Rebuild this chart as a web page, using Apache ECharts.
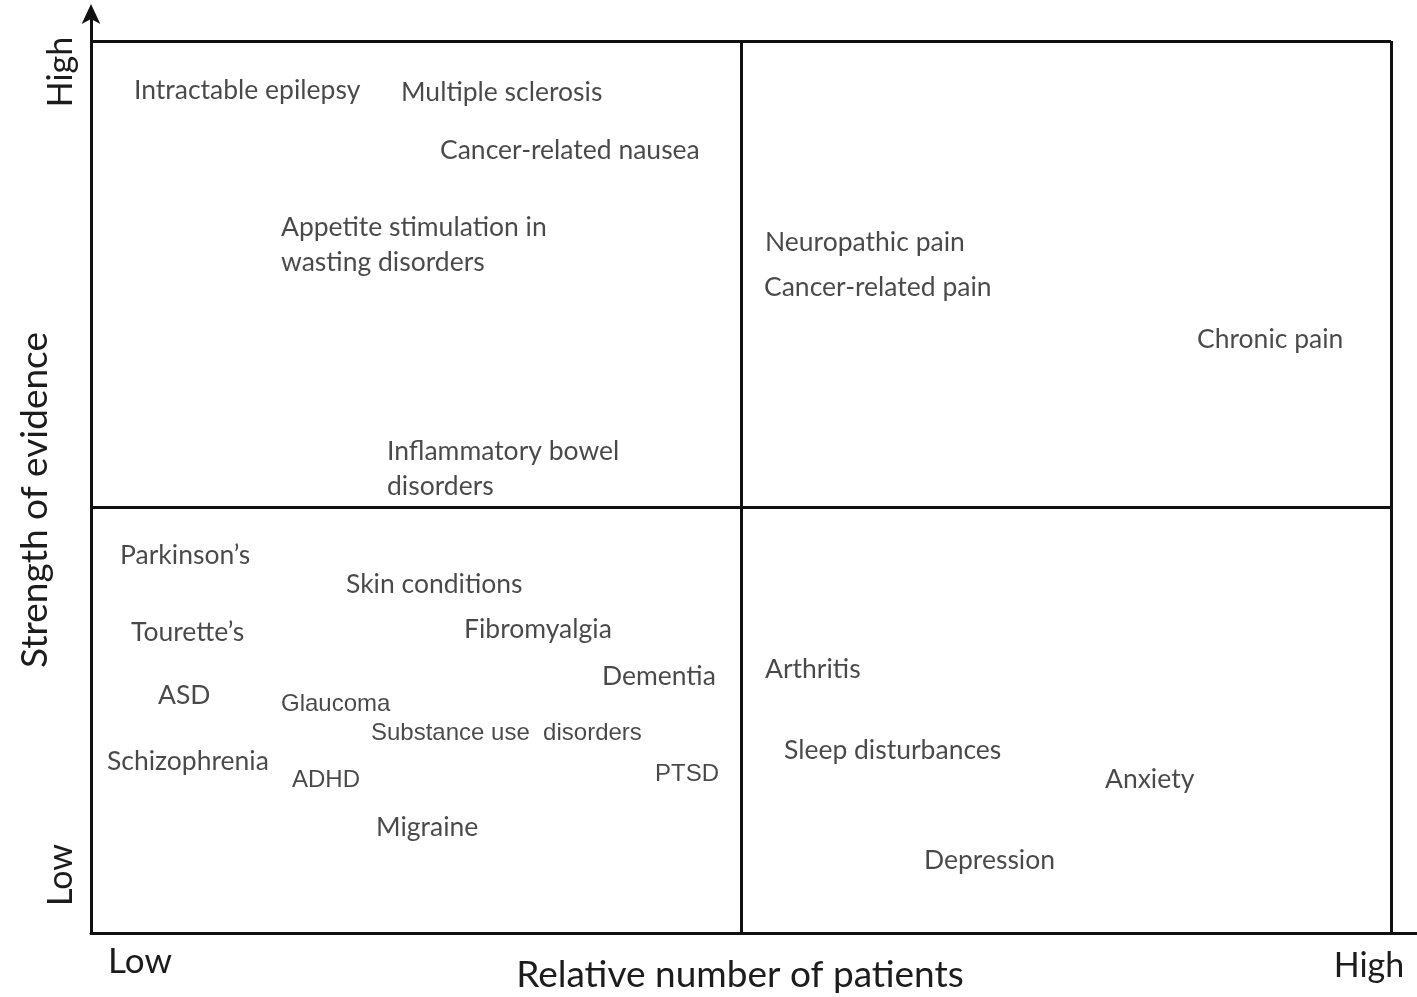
<!DOCTYPE html>
<html>
<head>
<meta charset="utf-8">
<script src="https://cdn.jsdelivr.net/npm/echarts@6/dist/echarts.min.js"></script>
<style>
html,body{margin:0;padding:0;background:#fff;}
#chart{width:1417px;height:997px;}
</style>
</head>
<body>
<div id="chart"></div>
<script>
// Condition labels (Calibri-like text), positions in chart units (x: patients, y: evidence)
const condNames = [
  'Intractable epilepsy', 'Multiple sclerosis', 'Cancer-related nausea',
  'Appetite stimulation in\nwasting disorders', 'Neuropathic pain', 'Cancer-related pain',
  'Chronic pain', 'Inflammatory bowel\ndisorders', 'Parkinson\u2019s', 'Skin conditions',
  'Tourette\u2019s', 'Fibromyalgia', 'Dementia', 'Arthritis', 'ASD', 'Schizophrenia',
  'Sleep disturbances', 'Anxiety', 'Migraine', 'Depression'
];
const condX = [43, 310, 349, 190, 674, 673, 1106, 296, 29, 255, 40, 373, 511, 674, 67, 16, 693, 1014, 285, 833];
const condY = [843, 841, 783, 688, 691, 646, 594, 464, 378, 349, 301, 304, 257, 264, 238, 172, 183, 154, 106, 73];

// Condition labels set in the Arial-like face
const arialNames = ['Glaucoma', 'Substance use  disorders', 'ADHD', 'PTSD'];
const arialX = [190, 280, 201, 564];
const arialY = [229, 200, 153, 159];

// Axis extent and quadrant boundaries (chart units)
const xMax = 1326, yMax = 921;
const boxRight = 1300, boxTop = 892;
const midX = 650, midY = 426;

const chart = echarts.init(document.getElementById('chart'));

const calibri = 'Lato, "Open Sans", sans-serif';
const arial = '"Liberation Sans", Arial, sans-serif';

function pts(names, xs, ys) {
  return names.map((n, i) => ({ name: n, value: [xs[i], ys[i]] }));
}

const lineStyle = { color: '#111', width: 3, type: 'solid' };

chart.setOption({
  backgroundColor: '#fff',
  animation: false,
  grid: { left: 91, right: 0, top: 12, bottom: 64, containLabel: false },
  xAxis: {
    type: 'value', min: 0, max: xMax,
    axisLine: { show: true, lineStyle: lineStyle, symbol: ['none', 'none'] },
    axisTick: { show: false }, axisLabel: { show: false }, splitLine: { show: false }
  },
  yAxis: {
    type: 'value', min: 0, max: yMax,
    axisLine: { show: true, lineStyle: lineStyle, symbol: ['none', 'arrow'], symbolSize: [14, 20], symbolOffset: [0, 8] },
    axisTick: { show: false }, axisLabel: { show: false }, splitLine: { show: false }
  },
  series: [
    {
      type: 'scatter', symbolSize: 0, silent: true,
      data: pts(condNames, condX, condY),
      label: {
        show: true, position: 'right', distance: 0, formatter: '{b}',
        color: '#1c1c1c', fontFamily: calibri, fontSize: 26.5, lineHeight: 35
      }
    },
    {
      type: 'scatter', symbolSize: 0, silent: true,
      data: pts(arialNames, arialX, arialY),
      label: {
        show: true, position: 'right', distance: 0, formatter: '{b}',
        color: '#1c1c1c', fontFamily: arial, fontSize: 24
      }
    },
    {
      type: 'line', data: [], silent: true,
      markLine: {
        silent: true, symbol: ['none', 'none'], label: { show: false },
        lineStyle: lineStyle,
        data: [
          [{ coord: [0, boxTop] }, { coord: [boxRight, boxTop] }],
          [{ coord: [boxRight, 0] }, { coord: [boxRight, boxTop] }],
          [{ coord: [midX, 0] }, { coord: [midX, boxTop] }],
          [{ coord: [0, midY] }, { coord: [boxRight, midY] }]
        ]
      }
    }
  ],
  graphic: [
    { type: 'text', x: 740, y: 975, style: { text: 'Relative number of patients', textAlign: 'center', textVerticalAlign: 'middle', font: '37px ' + calibri, fill: '#1c1c1c' } },
    { type: 'text', x: 140, y: 962, style: { text: 'Low', textAlign: 'center', textVerticalAlign: 'middle', font: '35px ' + calibri, fill: '#1c1c1c' } },
    { type: 'text', x: 1369, y: 966, style: { text: 'High', textAlign: 'center', textVerticalAlign: 'middle', font: '34px ' + calibri, fill: '#1c1c1c' } },
    { type: 'text', x: 35, y: 500, rotation: Math.PI / 2, style: { text: 'Strength of evidence', textAlign: 'center', textVerticalAlign: 'middle', font: '37px ' + calibri, fill: '#1c1c1c' } },
    { type: 'text', x: 61, y: 72, rotation: Math.PI / 2, style: { text: 'High', textAlign: 'center', textVerticalAlign: 'middle', font: '34px ' + calibri, fill: '#1c1c1c' } },
    { type: 'text', x: 61, y: 875, rotation: Math.PI / 2, style: { text: 'Low', textAlign: 'center', textVerticalAlign: 'middle', font: '34px ' + calibri, fill: '#1c1c1c' } }
  ]
});
</script>
</body>
</html>
